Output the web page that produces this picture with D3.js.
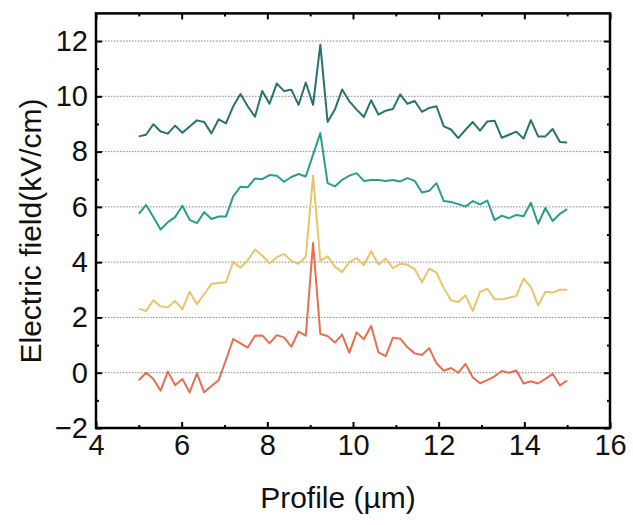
<html lang="en">

<head>
  <meta http-equiv="Content-Type" content="text/html; charset=UTF-8">
  <title>Electric field profile</title>
  <script type="text/javascript" src="https://cdn.jsdelivr.net/npm/d3@7/dist/d3.min.js"></script>
  <style type="text/css">
    body { margin: 0; background: #fff; }
    text { font-family: "Liberation Sans", Arial, sans-serif; fill: #111; }
  </style>
</head>

<body>
  <script type="text/javascript">
    // profile positions (um), 60 samples from 5 to 15
    var profile = [5.000, 5.169, 5.339, 5.508, 5.678, 5.847, 6.017, 6.186, 6.356, 6.525,
      6.695, 6.864, 7.034, 7.203, 7.373, 7.542, 7.712, 7.881, 8.051, 8.220,
      8.390, 8.559, 8.729, 8.898, 9.068, 9.237, 9.407, 9.576, 9.746, 9.915,
      10.085, 10.254, 10.424, 10.593, 10.763, 10.932, 11.102, 11.271, 11.441, 11.610,
      11.780, 11.949, 12.119, 12.288, 12.458, 12.627, 12.797, 12.966, 13.136, 13.305,
      13.475, 13.644, 13.814, 13.983, 14.153, 14.322, 14.492, 14.661, 14.831, 15.000];

    var fieldA = [-0.27, 0.00, -0.23, -0.65, 0.04, -0.45, -0.23, -0.71, -0.02, -0.71,
      -0.48, -0.27, 0.46, 1.22, 1.06, 0.91, 1.34, 1.35, 1.06, 1.36,
      1.28, 0.94, 1.49, 1.34, 4.69, 1.40, 1.33, 1.09, 1.38, 0.72,
      1.46, 1.21, 1.69, 0.74, 0.60, 1.27, 1.23, 0.92, 0.70, 0.64,
      0.89, 0.34, 0.07, 0.17, 0.00, 0.32, -0.17, -0.38, -0.27, -0.13,
      0.06, 0.00, 0.08, -0.39, -0.31, -0.39, -0.22, -0.04, -0.46, -0.28];

    var fieldB = [2.32, 2.23, 2.62, 2.40, 2.36, 2.60, 2.29, 2.93, 2.48, 2.84,
      3.21, 3.25, 3.27, 4.01, 3.80, 4.06, 4.46, 4.24, 3.95, 4.18,
      4.30, 4.05, 3.94, 4.20, 7.13, 4.05, 4.21, 3.84, 3.64, 4.00,
      4.15, 3.89, 4.40, 3.91, 4.13, 3.78, 3.94, 3.91, 3.74, 3.27,
      3.77, 3.62, 3.06, 2.62, 2.56, 2.80, 2.23, 2.92, 3.04, 2.66,
      2.66, 2.71, 2.78, 3.41, 3.10, 2.44, 2.93, 2.90, 3.00, 3.00];

    var fieldC = [5.75, 6.07, 5.63, 5.18, 5.45, 5.63, 6.04, 5.53, 5.41, 5.81,
      5.56, 5.65, 5.65, 6.38, 6.73, 6.71, 7.03, 7.00, 7.15, 7.13,
      6.91, 7.08, 7.19, 7.10, 7.89, 8.67, 6.86, 6.74, 6.98, 7.13,
      7.22, 6.94, 6.97, 6.97, 6.94, 6.97, 6.92, 7.04, 6.94, 6.52,
      6.58, 6.86, 6.21, 6.18, 6.10, 6.01, 6.21, 6.09, 6.23, 5.52,
      5.68, 5.59, 5.71, 5.66, 6.15, 5.39, 5.96, 5.49, 5.75, 5.92];

    var fieldD = [8.55, 8.61, 8.99, 8.73, 8.65, 8.94, 8.68, 8.91, 9.13, 9.07,
      8.66, 9.17, 9.02, 9.64, 10.08, 9.64, 9.26, 10.19, 9.73, 10.47,
      10.19, 10.24, 9.69, 10.50, 9.69, 11.87, 9.07, 9.52, 10.25, 9.82,
      9.52, 9.25, 9.86, 9.34, 9.48, 9.54, 10.07, 9.73, 9.83, 9.44,
      9.58, 9.64, 8.91, 8.80, 8.49, 8.79, 9.07, 8.76, 9.09, 9.12,
      8.50, 8.61, 8.72, 8.47, 9.14, 8.55, 8.55, 8.82, 8.35, 8.33];

    var seriesColors = ["#e76f51", "#e9c46a", "#2a9d8f", "#287271"];
    var xTicks = [4, 6, 8, 10, 12, 14, 16];
    var yTicks = [-2, 0, 2, 4, 6, 8, 10, 12];
    var xMinor = [5, 7, 9, 11, 13, 15];
    var yMinor = [-1, 1, 3, 5, 7, 9, 11];

    drawChart();

    function drawChart() {
      var pLeft = 96, pRight = 610, pTop = 13.4, pBottom = 428;

      var svg = d3.select("body").append("svg").attr("width", 633).attr("height", 525);

      var x = d3.scaleLinear().domain([4, 16]).range([pLeft, pRight]);
      var y = d3.scaleLinear().domain([-2, 13]).range([pBottom, pTop]);

      // dotted grid lines
      svg.append("g").selectAll("line").data(yTicks.filter(function(d) { return d > -2; }))
        .enter().append("line")
        .attr("x1", pLeft).attr("x2", pRight)
        .attr("y1", function(d) { return y(d); })
        .attr("y2", function(d) { return y(d); })
        .attr("stroke", "#888")
        .attr("stroke-width", 1)
        .attr("stroke-dasharray", "1.5,1.5");

      var all = [fieldA, fieldB, fieldC, fieldD];
      var line = d3.line()
        .x(function(d, i) { return x(profile[i]); })
        .y(function(d) { return y(d); });

      svg.append("g").selectAll("path").data(all).enter().append("path")
        .attr("d", function(d) { return line(d); })
        .attr("fill", "none")
        .attr("stroke", function(d, i) { return seriesColors[i]; })
        .attr("stroke-width", 2)
        .attr("stroke-linejoin", "round");

      // axes with inward ticks
      function noLabel() { return ""; }
      var fmt = function(d) { return d < 0 ? "\u2212" + Math.abs(d) : d; };

      var gx = svg.append("g").attr("transform", "translate(0," + pBottom + ")")
        .call(d3.axisBottom(x).tickValues(xTicks).tickSize(-6).tickPadding(5).tickFormat(fmt));
      svg.append("g").attr("transform", "translate(0," + pBottom + ")")
        .call(d3.axisBottom(x).tickValues(xMinor).tickSize(-3).tickFormat(noLabel));
      svg.append("g").attr("transform", "translate(0," + pTop + ")")
        .call(d3.axisTop(x).tickValues(xTicks).tickSize(-6).tickFormat(noLabel));
      svg.append("g").attr("transform", "translate(0," + pTop + ")")
        .call(d3.axisTop(x).tickValues(xMinor).tickSize(-3).tickFormat(noLabel));

      svg.append("g").attr("transform", "translate(" + pLeft + ",0)")
        .call(d3.axisLeft(y).tickValues(yTicks).tickSize(-6).tickPadding(8).tickFormat(fmt));
      svg.append("g").attr("transform", "translate(" + pLeft + ",0)")
        .call(d3.axisLeft(y).tickValues(yMinor).tickSize(-3).tickFormat(noLabel));
      svg.append("g").attr("transform", "translate(" + pRight + ",0)")
        .call(d3.axisRight(y).tickValues(yTicks).tickSize(-6).tickFormat(noLabel));
      svg.append("g").attr("transform", "translate(" + pRight + ",0)")
        .call(d3.axisRight(y).tickValues(yMinor).tickSize(-3).tickFormat(noLabel));

      svg.selectAll(".domain").remove();
      svg.selectAll(".tick line").attr("stroke", "#000").attr("stroke-width", 2);
      svg.selectAll(".tick text").style("font-size", "29px").attr("fill", "#111");
      gx.selectAll(".tick text").attr("dy", "0.75em");

      // frame
      svg.append("rect")
        .attr("x", pLeft).attr("y", pTop)
        .attr("width", pRight - pLeft).attr("height", pBottom - pTop)
        .attr("fill", "none")
        .attr("stroke", "#000")
        .attr("stroke-width", 2.5);

      svg.append("text")
        .attr("x", 338).attr("y", 508)
        .attr("text-anchor", "middle")
        .style("font-size", "30px")
        .text("Profile (\u00b5m)");

      svg.append("text")
        .attr("transform", "translate(41,231) rotate(-90)")
        .attr("text-anchor", "middle")
        .style("font-size", "30px")
        .text("Electric field(kV/cm)");
    }
  </script>
</body>

</html>
